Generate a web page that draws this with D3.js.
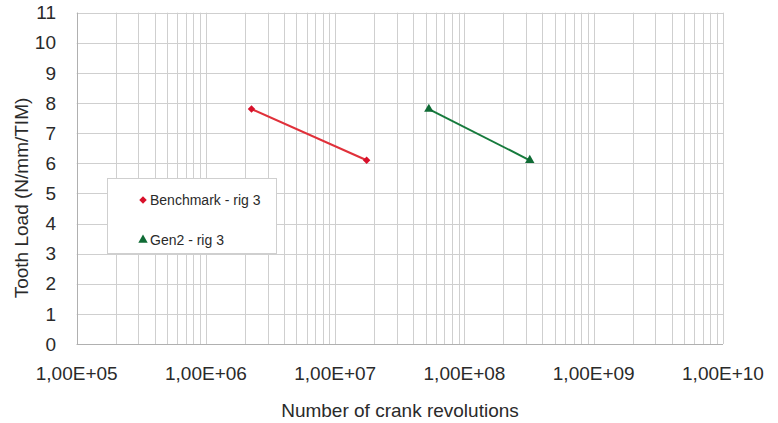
<!DOCTYPE html>
<html><head><meta charset="utf-8">
<script src="https://cdn.jsdelivr.net/npm/d3@7"></script>
<style>body{margin:0;background:#fff}svg{display:block}text{font-family:"Liberation Sans",Arial,sans-serif}</style>
</head><body>
<svg id="c" width="778" height="423"></svg>
<script>
const seriesNames = ["Benchmark - rig 3", "Gen2 - rig 3"];
const benchmarkX = [2.25e6, 1.75e7];
const benchmarkY = [7.8, 6.1];
const gen2X = [5.3e7, 3.2e8];
const gen2Y = [7.8, 6.1];
const xTicks = [1e5, 1e6, 1e7, 1e8, 1e9, 1e10];
const xTickLabels = ["1,00E+05", "1,00E+06", "1,00E+07", "1,00E+08", "1,00E+09", "1,00E+10"];
const yTicks = [0,1,2,3,4,5,6,7,8,9,10,11];

const svg = d3.select("#c");
const L = 76.7, R = 723, T = 12.7, B = 344;
const x = d3.scaleLog().domain([1e5, 1e10]).range([L, R]);
const y = d3.scaleLinear().domain([0, 11]).range([B, T]);

const grid = svg.append("g");
const minor = [];
for (let e = 5; e < 10; e++) for (let m = 1; m <= 9; m++) minor.push(m * Math.pow(10, e));
minor.push(1e10);
grid.selectAll("line.v").data(minor).join("line")
  .attr("x1", d => Math.round(x(d)) + 0.5).attr("x2", d => Math.round(x(d)) + 0.5)
  .attr("y1", T).attr("y2", B)
  .attr("stroke", "#cfcfcf").attr("stroke-width", 1);
grid.selectAll("line.h").data(yTicks).join("line")
  .attr("x1", L).attr("x2", R)
  .attr("y1", d => Math.round(y(d)) + 0.5).attr("y2", d => Math.round(y(d)) + 0.5)
  .attr("stroke", "#cfcfcf").attr("stroke-width", 1);
svg.append("line").attr("x1", L).attr("x2", R).attr("y1", Math.round(B)+0.5).attr("y2", Math.round(B)+0.5).attr("stroke", "#b0b0b0");
svg.append("line").attr("x1", Math.round(L)+0.5).attr("x2", Math.round(L)+0.5).attr("y1", T).attr("y2", B).attr("stroke", "#b0b0b0");

svg.append("g").selectAll("text").data(yTicks).join("text")
  .attr("x", 56).attr("y", d => y(d)).attr("dy", "0.35em")
  .attr("text-anchor", "end").attr("font-size", 19).attr("fill", "#2a2a2a")
  .text(d => d);
svg.append("g").selectAll("text").data(xTicks).join("text")
  .attr("x", d => x(d)).attr("y", 380)
  .attr("text-anchor", "middle").attr("font-size", 19).attr("fill", "#2a2a2a")
  .text((d, i) => xTickLabels[i]);

svg.append("text").attr("x", 400).attr("y", 417).attr("text-anchor", "middle")
  .attr("font-size", 19).attr("fill", "#2a2a2a").text("Number of crank revolutions");
svg.append("text").attr("transform", "translate(28,198) rotate(-90)").attr("text-anchor", "middle")
  .attr("font-size", 19).attr("fill", "#2a2a2a").text("Tooth Load (N/mm/TIM)");

const line = d3.line().x(d => x(d[0])).y(d => y(d[1]));
const bData = benchmarkX.map((v, i) => [v, benchmarkY[i]]);
const gData = gen2X.map((v, i) => [v, gen2Y[i]]);
svg.append("path").datum(bData).attr("d", line).attr("fill", "none").attr("stroke", "#e0303a").attr("stroke-width", 2);
svg.append("path").datum(gData).attr("d", line).attr("fill", "none").attr("stroke", "#167a3c").attr("stroke-width", 2);
const diamond = d3.symbol().type(d3.symbolSquare).size(28);
const tri = d3.symbol().type(d3.symbolTriangle).size(38);
svg.append("g").selectAll("path").data(bData).join("path")
  .attr("d", diamond).attr("transform", d => `translate(${x(d[0])},${y(d[1])}) rotate(45)`).attr("fill", "#d8102a");
svg.append("g").selectAll("path").data(gData).join("path")
  .attr("d", tri).attr("transform", d => `translate(${x(d[0])},${y(d[1])})`).attr("fill", "#0f6b35");

const lg = svg.append("g");
lg.append("rect").attr("x", 107.5).attr("y", 178.5).attr("width", 169).attr("height", 75)
  .attr("fill", "#fff").attr("stroke", "#cfcfcf");
lg.append("path").attr("d", diamond).attr("transform", "translate(143,200) rotate(45)").attr("fill", "#d8102a");
lg.append("path").attr("d", tri).attr("transform", "translate(143,240)").attr("fill", "#0f6b35");
lg.append("text").attr("x", 150).attr("y", 205).attr("font-size", 14).attr("fill", "#2a2a2a").text(seriesNames[0]);
lg.append("text").attr("x", 150).attr("y", 245).attr("font-size", 14).attr("fill", "#2a2a2a").text(seriesNames[1]);
</script>
</body></html>
